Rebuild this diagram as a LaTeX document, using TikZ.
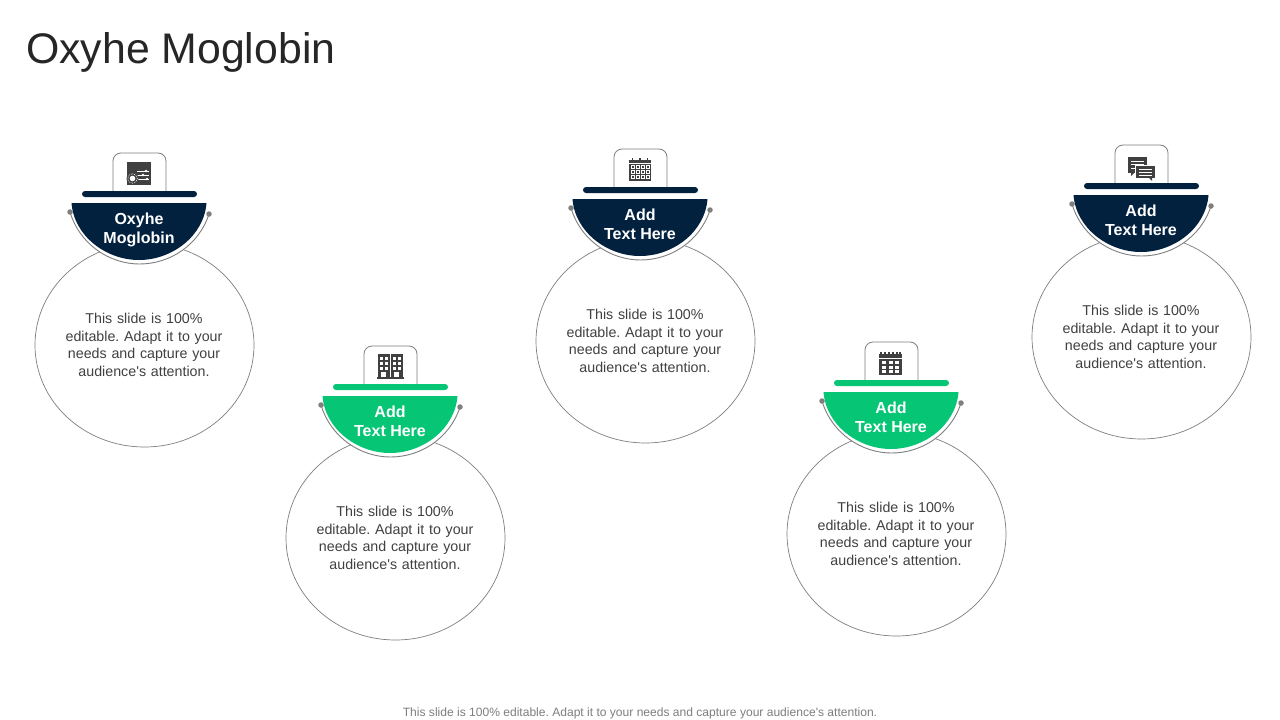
\documentclass[tikz,border=0pt]{standalone}
\usepackage{fontspec}
\setmainfont{Liberation Sans}
\newfontfamily\plainfont{Liberation Sans}
\usetikzlibrary{shapes.geometric}
\definecolor{navy}{HTML}{02213F}
\definecolor{mint}{HTML}{06C574}
\definecolor{ink}{HTML}{404040}
\definecolor{rim}{HTML}{7F7F7F}
\tikzset{
  x=1pt,y=-1pt,
  ringshape/.style={draw=rim,line width=0.7pt,ellipse,minimum width=219pt,minimum height=204pt,inner sep=0pt},
  iconbox/.style={draw=rim,line width=0.8pt,fill=white,rounded corners=8pt},
  capbar/.style={rounded corners=3pt},
  rimline/.style={draw=rim,line width=0.9pt},
  rimdot/.style={fill=rim,circle,inner sep=0pt,minimum size=5.5pt},
  headtext/.style={text=white,font=\plainfont\frenchspacing\fontsize{16}{19}\selectfont\bfseries,align=center},
  bodytext/.style={text=ink,font=\plainfont\frenchspacing\fontsize{14.25}{17.6}\selectfont,align=center,text width=170pt},
  iconfill/.style={fill=ink,draw=none},
  iconcut/.style={fill=white,draw=none}
}
% #1 id, #2 dx, #3 dy, #4 colour, #5 head text, #6 extra dx of ring and body
\newcommand{\unitgroup}[6]{%
\begin{scope}[shift={(#2,#3)}]
  \node[ringshape] (ring#1) at (144.5+#6,345) {};
  \fill[white] (70,212) .. controls (80,245) and (110,264) .. (139.5,264) .. controls (170,264) and (199,245) .. (209,214) -- (209,150) -- (70,150) -- cycle;
  \draw[rimline] (70,212) .. controls (80,245) and (110,264) .. (139.5,264) .. controls (170,264) and (199,245) .. (209,214);
  \node[rimdot] (dotl#1) at (70,212) {};
  \node[rimdot] (dotr#1) at (209,214) {};
  \draw[iconbox] (113,196) -- (113,153) -- (166,153) -- (166,196);
  \fill[#4,capbar] (82,191) rectangle (197,197);
  \fill[#4] (71.5,203) -- (206.5,203) .. controls (204,236) and (172,260) .. (139,260) .. controls (106,260) and (74,236) .. (71.5,203) -- cycle;
  \node[headtext] (head#1) at (139,230) {#5};
  \node[bodytext] (body#1) at (144+#6,345) {This slide is 100\%\\editable. Adapt it to your\\needs and capture your\\audience's attention.};
\end{scope}}
\begin{document}
\begin{tikzpicture}
\useasboundingbox (0,0) rectangle (1280,720);
\fill[white] (0,0) rectangle (1280,720);
\node[anchor=base west,inner sep=0pt,text=black!85,font=\plainfont\fontsize{42.8}{50}\selectfont] (title) at (26,63) {Oxyhe Moglobin};
\unitgroup{a}{0}{0}{navy}{Oxyhe\strut\\Moglobin\strut}{0}
\unitgroup{b}{251}{193}{mint}{Add\strut\\Text Here\strut}{0}
\unitgroup{c}{501}{-4}{navy}{Add\strut\\Text Here\strut}{0}
\unitgroup{d}{752}{189}{mint}{Add\strut\\Text Here\strut}{0}
\unitgroup{e}{1002}{-8}{navy}{Add\strut\\Text Here\strut}{-5}
% icon 1: settings panel
\fill[iconfill] (127,162) rectangle (151,185);
\foreach \yy/\xx in {171/146,175/143,179/147}{
  \fill[iconcut] (137,\yy-0.4) rectangle (149,\yy+0.4);
  \fill[iconcut] (\xx,\yy) circle (1.3);
}
\fill[iconfill] (132.5,178.5) circle (6);
\fill[iconcut] (132.5,178.5) circle (2.8);
\draw[white,line width=0.7pt,densely dotted] (132.5,178.5) circle (4.8);
% icon 2: building
\fill[iconfill] (378,354) rectangle (389.5,378);
\fill[iconfill] (391,354) rectangle (402.5,378);
\fill[iconfill] (376.5,377) rectangle (403.5,378.5);
\foreach \xx in {380,384.5,393,397.5}\foreach \yy in {357,362,367}{
  \fill[iconcut] (\xx,\yy) rectangle (\xx+3,\yy+3);
}
\fill[iconcut] (381,372) rectangle (385.5,377);
\fill[iconcut] (394,372) rectangle (398.5,377);
% icon 3: calendar
\fill[iconfill] (629,160) rectangle (651,181);
\foreach \xx in {632.5,640,647.5}{\fill[iconfill] (\xx-0.8,158) rectangle (\xx+0.8,162);}
\fill[iconcut] (629,163.4) rectangle (651,164);
\foreach \xx in {631.5,636.5,641.5,646.5}\foreach \yy in {165.5,170,175}{
  \draw[white,line width=0.6pt] (\xx,\yy) rectangle (\xx+3,\yy+3);
}
% icon 4: calendar
\fill[iconfill] (879,354) rectangle (901.5,374.5);
\foreach \xx in {881,885,889,893,897,900}{\fill[iconfill] (\xx-0.7,352) rectangle (\xx+0.7,356);}
\fill[iconcut] (879,358) rectangle (901.5,358.8);
\foreach \xx in {881.5,888.5,895}\foreach \yy in {360.5,365.5,370}{
  \fill[iconcut] (\xx,\yy) rectangle (\xx+4,\yy+3);
}
% icon 5: chat
\fill[iconfill] (1128,157) rectangle (1147,173);
\fill[iconfill] (1131,172) -- (1135,172) -- (1131,176) -- cycle;
\foreach \yy in {161,164,167.5}{\fill[iconcut] (1131,\yy) rectangle (1144,\yy+0.9);}
\fill[white] (1135,165) rectangle (1156,178);
\fill[iconfill] (1136,166) rectangle (1155,177.5);
\fill[iconfill] (1148,177) -- (1152,177) -- (1152,181) -- cycle;
\foreach \yy in {169,172,175}{\fill[iconcut] (1139,\yy) rectangle (1152,\yy+0.9);}
\node[anchor=center,inner sep=0pt,text=rim,font=\plainfont\frenchspacing\fontsize{12.06}{14}\selectfont] (foot) at (640,713) {This slide is 100\% editable. Adapt it to your needs and capture your audience's attention.};
\end{tikzpicture}
\end{document}
